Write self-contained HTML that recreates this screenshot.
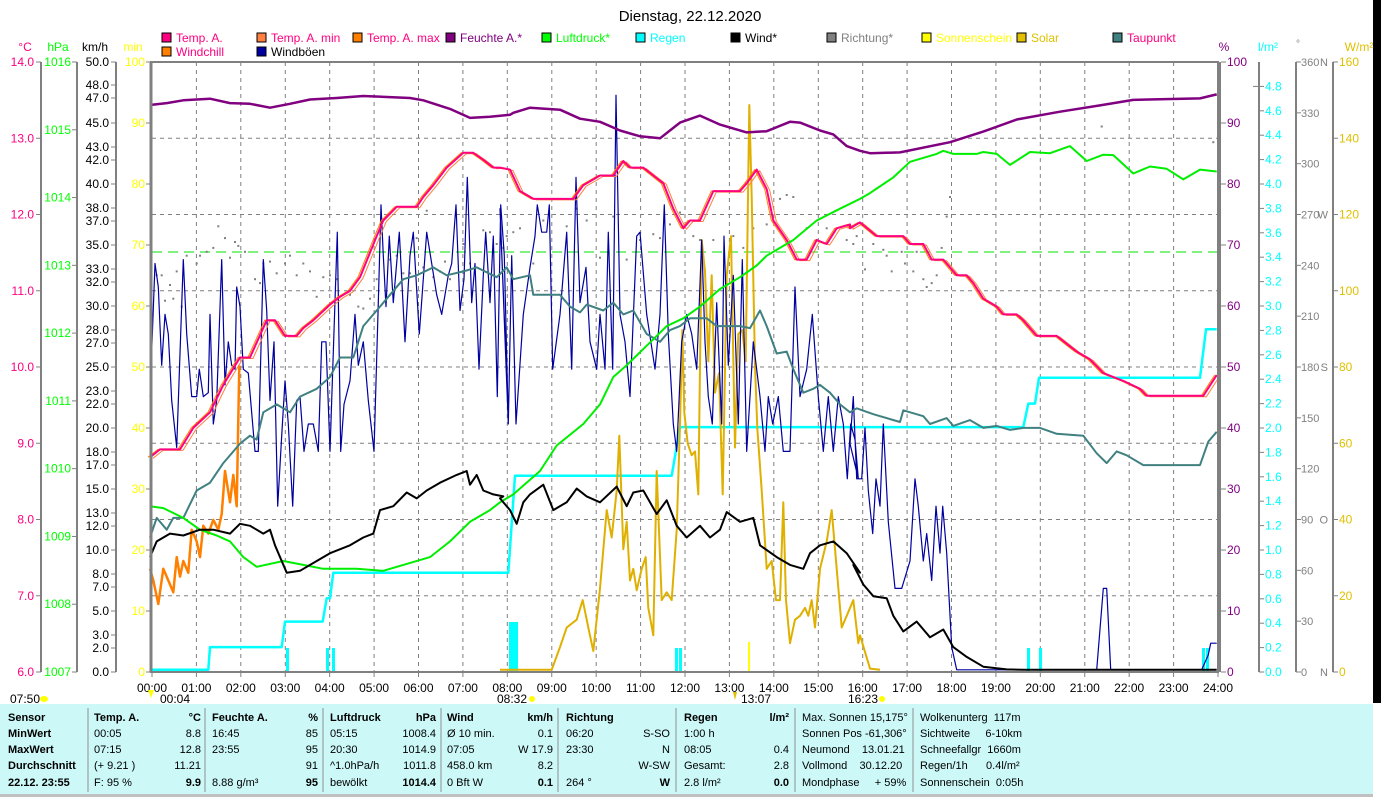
<!DOCTYPE html>
<html><head><meta charset="utf-8"><style>
html,body{margin:0;padding:0;background:#fff;width:1381px;height:800px;overflow:hidden}
svg{display:block;font-family:"Liberation Sans",sans-serif}
</style></head><body>
<svg id="s" width="1381" height="800" xmlns="http://www.w3.org/2000/svg"></svg>
<script>
const S=document.getElementById('s');let H='';
function add(x){H+=x;}
function t(x,y,str,col,anchor,size,bold){add(`<text x="${x}" y="${y}" fill="${col||'#000'}" font-size="${size||12}" text-anchor="${anchor||'start'}"${bold?' font-weight="bold"':''}>${str}</text>`);}
function tr(ox,pts){return pts.map(p=>(ox+p[0]/3).toFixed(1)+','+(60+p[1]/2.555).toFixed(1));}
function pl(arr,col,w,extra){add(`<polyline points="${arr.join(' ')}" fill="none" stroke="${col}" stroke-width="${w}" stroke-linejoin="round" ${extra||''}/>`);}
const X0=152,X1=1218,YT=62,YB=672;
function hx(h){return X0+(X1-X0)*h/24;}
add(`<rect x="1373" y="0" width="8" height="703" fill="#000"/>`);
t(690,21,'Dienstag, 22.12.2020','#000','middle',15);
const L=[[162,'#ff0080','Temp. A.','#ff0080',1],[257,'#ff8040','Temp. A. min','#ff0080',1],[353,'#ff8000','Temp. A. max','#ff0080',1],[446,'#800080','Feuchte A.*','#800080',1],[542,'#00ff00','Luftdruck*','#00ff00',1],[636,'#00ffff','Regen','#00ffff',1],[731,'#000','Wind*','#000',1],[827,'#808080','Richtung*','#808080',1],[922,'#ffff00','Sonnenschein','#ffff00',1],[1017,'#e0c000','Solar','#e0c000',1],[1113,'#408080','Taupunkt','#ff0080',1],
[162,'#ff8000','Windchill','#ff0080',2],[257,'#0000a0','Windböen','#000',2]];
L.forEach(l=>{const y=l[4]==1?33:47;add(`<rect x="${l[0]}" y="${y}" width="9" height="9" fill="${l[1]}" stroke="#000" stroke-width="1"/>`);t(l[0]+14,y+9,l[2],l[3],'start',12);});
t(25,51,'°C','#ff0080','middle',12);t(58,51,'hPa','#00ff00','middle',12);t(95,51,'km/h','#000','middle',12);t(133,51,'min','#ffff00','middle',12);
t(1224,51,'%','#800080','middle',12);t(1268,51,'l/m²','#00ffff','middle',12);t(1298,47,'°','#808080','middle',10);t(1359,51,'W/m²','#e0c000','middle',12);
[41,77,116].forEach(x=>add(`<line x1="${x}" y1="${YT}" x2="${x}" y2="${YB}" stroke="#808080" stroke-width="2"/>`));
for(let i=0;i<=8;i++){const y=YB-i*(YB-YT)/8;add(`<line x1="36" y1="${y}" x2="41" y2="${y}" stroke="#808080"/>`);t(34,y+4,(6+i).toFixed(1),'#ff0080','end');}
for(let i=0;i<=9;i++){const y=YB-i*(YB-YT)/9;add(`<line x1="72" y1="${y}" x2="77" y2="${y}" stroke="#808080"/>`);t(71,y+4,1007+i,'#00ff00','end');}
const KM=[[50,62],[48,85],[47,98],[45,123],[43,147],[42,160],[40,184],[38,208],[37,221],[35,245],[33,269],[32,282],[30,306],[28,330],[27,343],[25,367],[23,391],[22,404],[20,428],[18,452],[17,465],[15,489],[13,513],[12,526],[10,550],[8,574],[7,587],[5,611],[3,635],[2,648],[0,672]];
KM.forEach(k=>{add(`<line x1="111" y1="${k[1]}" x2="116" y2="${k[1]}" stroke="#808080"/>`);t(109,k[1]+4,k[0].toFixed(1),'#000','end');});
for(let i=0;i<=10;i++){const y=YB-i*61;add(`<line x1="146" y1="${y}" x2="151" y2="${y}" stroke="#808080"/>`);t(145,y+4,i*10,'#ffff00','end');}
[1259,1296,1333].forEach(x=>add(`<line x1="${x}" y1="${YT}" x2="${x}" y2="${YB}" stroke="#808080" stroke-width="2"/>`));
for(let i=0;i<=10;i++){const y=YB-i*61;add(`<line x1="1221" y1="${y}" x2="1226" y2="${y}" stroke="#808080"/>`);t(1227,y+4,i*10,'#800080');}
for(let i=0;i<=24;i++){const y=YB-i*24.4;add(`<line x1="1259" y1="${y}" x2="1264" y2="${y}" stroke="#808080"/>`);t(1265,y+4,(i*0.2).toFixed(1),'#00ffff');}
add(`<line x1="1253" y1="${YB-24*24.4}" x2="1259" y2="${YB-24*24.4}" stroke="#808080"/>`);
const DIR={0:'N',90:'O',180:'S',270:'W',360:'N'};
for(let i=0;i<=12;i++){const y=YB-i*(YB-YT)/12;add(`<line x1="1296" y1="${y}" x2="1301" y2="${y}" stroke="#808080"/>`);t(1301,y+4,i*30,'#808080','start',11);if(DIR[i*30]!==undefined)t(1328,y+4,DIR[i*30],'#808080','end',11);}
for(let i=0;i<=8;i++){const y=YB-i*(YB-YT)/8;add(`<line x1="1333" y1="${y}" x2="1338" y2="${y}" stroke="#808080"/>`);t(1339,y+4,i*20,'#e0c000');}
for(let h=1;h<24;h++){const x=hx(h).toFixed(1);add(`<line x1="${x}" y1="${YT}" x2="${x}" y2="${YB}" stroke="#808080" stroke-dasharray="4,4"/>`);}
for(let i=1;i<8;i++){const y=YB-i*(YB-YT)/8;add(`<line x1="${X0}" y1="${y}" x2="${X1}" y2="${y}" stroke="#808080" stroke-dasharray="4,4"/>`);}
for(let h=0;h<=24;h++){const x=hx(h);add(`<line x1="${x}" y1="${YB}" x2="${x}" y2="${YB+5}" stroke="#808080"/>`);t(x,692,(h<10?'0':'')+h+':00','#000','middle');}
t(10,703,'07:50','#000');add(`<ellipse cx="44" cy="699" rx="4" ry="3" fill="#ffff00"/>`);
t(160,703,'00:04','#000');add(`<path d="M148 690 L154 690 L151 698Z" fill="#ffff00"/>`);
t(497,703,'08:32','#000');add(`<circle cx="532" cy="699" r="3" fill="#ffff00"/>`);
t(741,703,'13:07','#000');add(`<path d="M733 692 L737 692 L735 700Z" fill="#e0c000"/>`);
t(848,703,'16:23','#000');add(`<circle cx="882" cy="699" r="3" fill="#ffff00"/>`);
add(`<line x1="${X0}" y1="252" x2="${X1}" y2="252" stroke="#00e000" stroke-dasharray="10,6"/>`);
const D7=[[20,550],[35,550],[45,615],[60,575],[70,610],[80,540],[95,630],[110,500],[140,520],[150,500],[170,490],[190,480],[205,425],[225,455],[240,505],[255,465],[265,475],[285,490],[315,560],[330,570],[340,520],[360,515],[380,545],[405,520],[420,500],[440,550],[460,520],[480,540],[500,605],[520,555],[540,550],[560,560],[600,600],[625,630],[640,635],[660,610],[680,560],[720,510],[740,500],[760,545],[780,545],[800,455],[820,530],[830,385],[850,555],[870,540],[885,515],[900,560],[940,470],[960,520],[1000,435],[1020,440],[1040,470],[1060,480]];
const D8=[[20,450],[40,440],[60,430],[100,520],[130,410],[200,425],[230,380],[260,410],[300,505],[340,400],[380,510],[420,460],[460,445],[480,455],[510,420],[540,390],[580,450],[600,460],[640,460],[700,450],[730,480],[760,430],[800,420],[840,355],[860,345],[880,350],[920,430],[950,460],[980,430],[1040,460],[1060,470]];
const D9=[[20,450],[45,535],[70,470],[100,485],[110,500],[125,540],[155,490],[165,520],[190,540],[200,490],[220,560],[230,580],[245,570],[260,550],[275,480],[290,400],[300,350],[755,170],[1090,210]];
[[150,D7],[500,D8],[850,D9]].forEach(g=>tr(g[0],g[1]).forEach(p=>{const [x,y]=p.split(',');add(`<rect x="${x-1}" y="${y-1}" width="2" height="2" fill="#808080"/>`);}));
[[287,648],[327,648],[333,648],[510,622],[513,622],[516,622],[676,648],[680,648],[1028,648],[1040,648],[1203,648],[1207,648]].forEach(b=>add(`<rect x="${b[0]-1}" y="${b[1]}" width="3" height="${YB-b[1]}" fill="#00ffff"/>`));
pl([].concat(tr(150,[[0,1558],[175,1558],[180,1500],[395,1500],[405,1435],[518,1435],[530,1375],[540,1375],[550,1310]]),tr(500,[[25,1310],[45,1062],[515,1062],[540,938]]),tr(850,[[520,938],[535,878],[555,878],[567,812],[1050,812],[1068,688],[1100,688]])),'#00ffff',2.5);
pl(tr(500,[[0,1558],[155,1558],[180,1500],[200,1450],[230,1430],[248,1380],[265,1450],[280,1510],[300,1350],[320,1150],[335,1220],[350,1100],[358,960],[370,1250],[380,1180],[390,1330],[400,1300],[410,1355],[425,1300],[437,1270],[445,1400],[460,1470],[470,1050],[485,1380],[500,1360],[515,1380],[530,1200],[540,930],[547,690],[553,900],[563,980],[575,1010],[585,1000],[595,1110],[605,460],[615,540],[625,770],[635,550],[645,850],[657,800],[668,1110],[680,550],[693,450],[705,990],[715,700],[727,690],[737,770],[748,115],[755,350],[765,780],[772,940],[785,1100],[800,1300],[815,1280],[828,1380],[840,1380],[850,1130],[858,1380],[870,1490],[885,1430],[900,1420],[915,1400],[925,1420],[935,1380],[945,1450],[960,1300],[980,1230],[995,1150],[1010,1300],[1025,1450],[1040,1420],[1060,1380],[1075,1490],[1080,1470],[1110,1555],[1140,1558]]),'#e0b000',2);
add(`<line x1="749" y1="642" x2="749" y2="672" stroke="#ffff00" stroke-width="2"/>`);
pl([].concat(tr(150,[[0,860],[15,520],[25,580],[35,780],[45,650],[55,700],[65,870],[80,990],[100,510],[110,700],[125,860],[140,860],[148,790],[160,860],[175,850],[180,650],[190,930],[200,870],[215,510],[225,830],[235,720],[245,780],[255,790],[260,580],[270,630],[280,790],[295,800],[315,1000],[325,1000],[340,510],[350,640],[360,870],[372,720],[383,1140],[395,960],[405,820],[415,930],[428,1140],[440,870],[450,860],[462,1000],[475,930],[490,930],[505,1000],[515,720],[528,720],[540,1000],[562,440],[572,1000],[582,880],[600,820],[615,650],[625,780],[640,720],[655,870],[672,1000],[685,620],[693,370],[700,500],[708,630],[718,450],[730,620],[748,440],[765,720],[780,500],[790,440],[808,700],[830,440],[845,520],[860,600],[875,650],[895,550],[905,520],[918,370],[930,640],[942,560],[952,300],[965,620],[975,520],[987,790],[1000,550],[1007,440],[1020,620],[1030,450],[1042,860],[1052,370],[1063,500],[1075,930]]),
tr(500,[[0,380],[15,700],[25,930],[35,500],[48,930],[70,650],[90,530],[105,450],[112,370],[125,440],[140,440],[148,370],[158,790],[180,650],[200,440],[215,790],[228,300],[240,620],[258,530],[270,720],[290,790],[300,650],[315,790],[325,440],[338,790],[348,90],[360,650],[375,720],[390,860],[410,450],[420,440],[440,650],[465,790],[480,650],[493,370],[505,700],[520,930],[530,1000],[545,720],[560,650],[575,700],[590,790],[605,460],[615,720],[625,860],[637,930],[650,620],[665,930],[672,450],[685,780],[700,550],[715,930],[727,510],[740,1000],[760,720],[780,860],[795,1000],[805,860],[818,930],[835,860],[850,1000],[870,1000],[885,580],[900,860],[920,790],[937,650],[955,860],[970,1000],[985,860],[1000,1000],[1015,860],[1030,930],[1042,1070],[1052,930],[1065,970],[1075,1070]]),
tr(850,[[0,980],[10,860],[20,1070],[35,1070],[45,940],[55,1100],[68,1210],[78,1070],[90,1140],[100,930],[115,1180],[135,1350],[155,1350],[180,1280],[195,1070],[205,1140],[220,1280],[230,1210],[245,1330],[258,1140],[270,1260],[278,1140],[290,1260],[305,1500],[320,1558],[740,1558],[760,1350],[770,1350],[782,1558],[1055,1558],[1075,1520],[1082,1490],[1100,1490]])),'#0000a0',1.2);
pl(tr(150,[[0,1300],[10,1330],[25,1390],[40,1300],[55,1330],[70,1360],[80,1270],[90,1320],[100,1280],[115,1310],[125,1200],[140,1230],[150,1270],[160,1190],[175,1210],[190,1175],[205,1200],[215,1160],[225,1050],[240,1130],[250,1060],[260,1140],[268,780]]),'#ff8000',2.5);
const T=[].concat(tr(150,[[0,1015],[30,995],[90,995],[130,940],[180,900],[220,830],[270,760],[300,760],[350,665],[375,665],[405,705],[440,705],[460,685],[490,665],[540,625],[570,605],[600,590],[630,555],[680,450],[700,410],[740,375],[800,375],[820,350],[850,320],[890,275],[940,237],[970,237],[1000,255],[1030,275]]),
tr(500,[[0,275],[30,280],[60,335],[100,355],[220,355],[250,320],[300,295],[340,295],[370,258],[390,275],[430,275],[460,295],[490,315],[520,380],[550,430],[570,410],[600,410],[640,335],[720,335],[740,315],[770,280],[800,330],[820,410],[860,460],[890,510],[920,510],[950,460],[980,470],[1010,430],[1050,420]]),
tr(850,[[0,430],[30,415],[80,450],[160,450],[180,470],[220,470],[245,510],[280,510],[300,530],[320,550],[350,550],[370,570],[400,610],[440,630],[460,650],[500,650],[520,665],[560,705],[620,705],[650,725],[680,745],[720,765],[760,800],[820,820],[870,840],[890,858],[1060,858],[1100,805]]));
pl(T,'#ff8040',1,'transform="translate(3,1)"');pl(T,'#ff8000',1,'transform="translate(-2,0)"');pl(T,'#ff0080',2);
pl([].concat(tr(150,[[0,1220],[20,1170],[50,1200],[70,1170],[100,1170],[140,1100],[180,1080],[220,1030],[270,980],[300,960],[320,970],[340,900],[380,880],[420,900],[450,860],[500,840],[540,810],[570,760],[610,760],[640,680],[680,640],[720,600],[760,560],[800,550],[850,530],[890,550],[940,540],[980,530],[1040,555]]),
tr(500,[[20,530],[40,560],[90,550],[100,600],[180,600],[210,630],[240,645],[260,625],[310,640],[340,620],[370,650],[400,640],[440,700],[480,720],[510,690],[540,680],[570,660],[620,660],[650,680],[720,680],[750,685],[780,640],[800,680],[830,750],[860,745],[880,790],[910,850],[940,840],[960,830],[990,850],[1020,880],[1050,900]]),
tr(850,[[20,890],[70,905],[150,925],[160,895],[220,910],[240,930],[290,915],[310,935],[360,920],[400,940],[440,935],[480,945],[520,940],[570,940],[620,955],[700,960],[740,1005],[770,1030],[800,1000],[830,1010],[880,1035],[1050,1035],[1075,975],[1100,950]])),'#408080',2);
pl([].concat(tr(150,[[0,1140],[40,1145],[100,1170],[150,1200],[200,1215],[240,1230],[280,1270],[320,1295],[400,1280],[460,1290],[520,1300],[620,1300],[700,1305],[760,1290],[840,1270],[900,1230],[960,1180],[1020,1150]]),
tr(500,[[0,1130],[40,1110],[120,1050],[170,985],[250,930],[300,880],[340,810],[380,780],[440,730],[500,680],[550,660],[600,630],[660,585],[720,555],[770,525],[800,500],[880,460],[950,410],[1020,380],[1080,355]]),
tr(850,[[60,340],[130,300],[180,260],[260,240],[280,232],[310,240],[380,240],[400,235],[440,240],[480,268],[540,235],[600,238],[660,220],[710,258],[760,242],[790,243],[850,290],[900,272],[950,278],[1000,305],[1050,280],[1100,285]])),'#00ee00',2);
pl([].concat(tr(150,[[0,1270],[20,1230],[60,1210],[100,1215],[150,1200],[190,1200],[240,1210],[270,1185],[300,1190],[340,1210],[360,1200],[375,1240],[410,1310],[450,1305],[500,1280],[540,1260],[600,1240],[640,1220],[670,1210],[690,1150],[730,1140],[770,1105],[800,1120],[830,1100],[870,1080],[920,1060],[950,1050],[960,1085],[980,1060],[1000,1100],[1030,1110],[1060,1115]]),
tr(500,[[0,1120],[30,1150],[50,1185],[70,1130],[90,1110],[130,1085],[160,1150],[200,1130],[230,1095],[260,1115],[300,1130],[350,1090],[380,1140],[400,1105],[430,1100],[470,1160],[500,1125],[530,1190],[560,1220],[600,1190],[630,1220],[660,1200],[680,1155],[720,1180],[760,1170],[780,1240],[830,1270],[870,1290],[910,1300],[930,1260],[960,1240],[1000,1230],[1040,1260],[1080,1310]]),
tr(850,[[10,1290],[40,1340],[70,1370],[110,1375],[130,1420],[160,1460],[200,1435],[240,1475],[280,1455],[310,1500],[350,1525],[400,1550],[470,1557],[520,1558],[1100,1558]])),'#000',2);
pl([].concat(tr(150,[[0,115],[50,110],[100,103],[180,99],[240,110],[300,112],[360,122],[420,112],[480,101],[560,97],[640,92],[780,97],[820,103],[900,125],[960,148],[1020,145],[1080,140]]),
tr(500,[[40,135],[90,122],[180,127],[240,150],[300,158],[360,180],[420,195],[480,200],[540,160],[600,142],[660,165],[740,185],[800,182],[870,158],[900,160],[960,180],[1000,190],[1040,220],[1080,232]]),
tr(850,[[60,238],[150,236],[300,210],[400,183],[500,152],[630,132],[750,116],[850,102],[1050,98],[1100,88]])),'#800080',2.5);
add(`<rect x="${X0-1}" y="${YT}" width="${X1-X0+1}" height="${YB-YT}" fill="none" stroke="#808080" stroke-width="2"/>`);
add(`<line x1="151" y1="${YT}" x2="151" y2="${YB}" stroke="#808080" stroke-width="3"/>`);
add(`<line x1="1220" y1="${YT}" x2="1220" y2="${YB}" stroke="#808080" stroke-width="2"/>`);
add(`<rect x="0" y="704" width="1373" height="90" fill="#ccf8f8"/>`);
add(`<rect x="0" y="794" width="1373" height="3" fill="#c0c0c0"/>`);
[88,205,323,441,558,676,795,913].forEach(x=>add(`<line x1="${x}" y1="708" x2="${x}" y2="792" stroke="#909090"/>`));
const R=[717,733,749,765,782];
function col(x,xr,rows){rows.forEach((r,i)=>{if(r[0])t(x,R[i]+4,r[0],'#000','start',11,i==0);if(r[1]!==undefined&&r[1]!=='')t(xr,R[i]+4,r[1],'#000','end',11,i==0||i==4);});}
['Sensor','MinWert','MaxWert','Durchschnitt','22.12. 23:55'].forEach((s,i)=>t(8,R[i]+4,s,'#000','start',11,true));
col(94,201,[['Temp. A.','°C'],[' 00:05','8.8'],[' 07:15','12.8'],['(+ 9.21 )','11.21'],['F: 95 %','9.9']]);
col(212,318,[['Feuchte A.','%'],[' 16:45','85'],[' 23:55','95'],['','91'],['8.88 g/m³','95']]);
col(330,436,[['Luftdruck','hPa'],[' 05:15','1008.4'],[' 20:30','1014.9'],['^1.0hPa/h','1011.8'],['bewölkt','1014.4']]);
col(447,553,[['Wind','km/h'],['Ø 10 min.','0.1'],[' 07:05','W 17.9'],[' 458.0 km','8.2'],[' 0 Bft W','0.1']]);
col(566,670,[['Richtung',''],[' 06:20','S-SO'],[' 23:30','N'],['','W-SW'],[' 264 °','W']]);
col(684,789,[['Regen','l/m²'],['1:00 h',''],[' 08:05','0.4'],['Gesamt:','2.8'],[' 2.8 l/m²','0.0']]);
['Max. Sonnen 15,175°','Sonnen Pos -61,306°','Neumond    13.01.21','Vollmond    30.12.20','Mondphase     + 59%'].forEach((s,i)=>add(`<text x="802" y="${R[i]+4}" font-size="11" xml:space="preserve">${s}</text>`));
['Wolkenunterg  117m','Sichtweite     6-10km','Schneefallgr  1660m','Regen/1h      0.4l/m²','Sonnenschein  0:05h'].forEach((s,i)=>add(`<text x="920" y="${R[i]+4}" font-size="11" xml:space="preserve">${s}</text>`));
S.innerHTML=H;
</script>
</body></html>
